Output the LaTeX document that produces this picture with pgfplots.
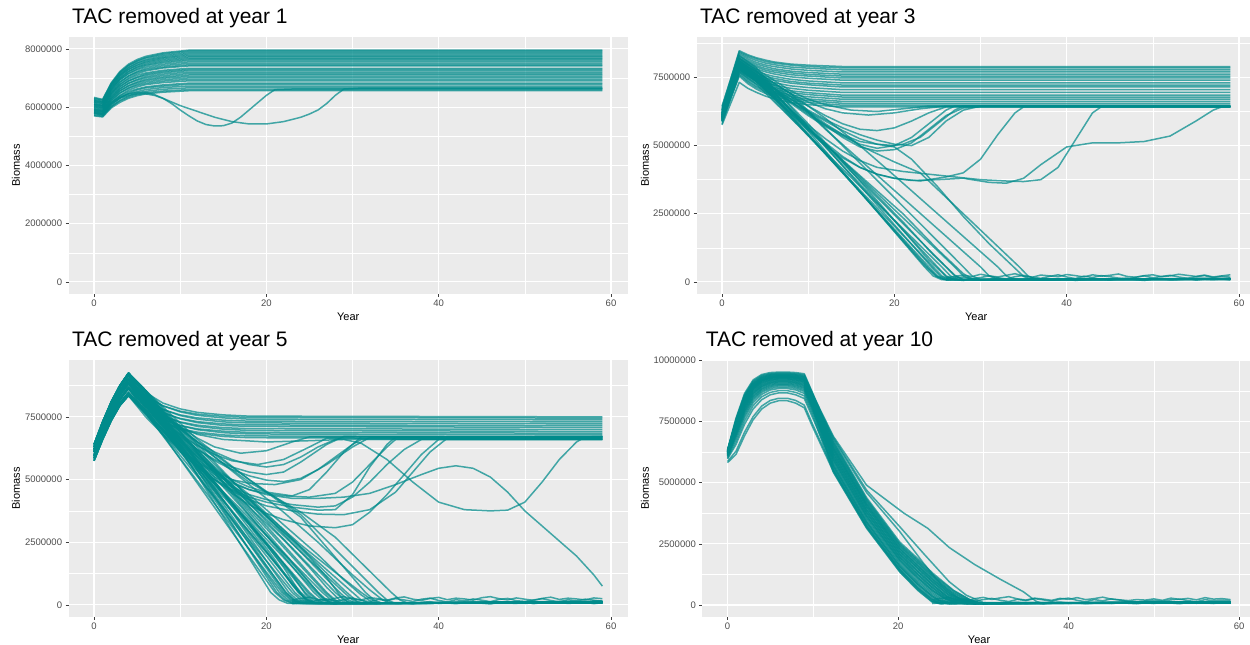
\documentclass[border=0pt]{standalone}
\usepackage{fontspec}
\setmainfont{Liberation Sans}
\usepackage{pgfplots}
\usepackage{pgfplotstable}
\pgfplotsset{compat=1.18}
\definecolor{tl}{RGB}{0,139,139}
\definecolor{bgc}{RGB}{235,235,235}
\definecolor{tkc}{RGB}{77,77,77}
\pgfplotsset{
 bl/.style={tl, line width=1.5pt, opacity=0.72, line join=round},
 gg/.style={
  scale only axis, height=256.5pt,
  xmin=-2.95, xmax=61.95,
  axis background/.style={fill=bgc},
  axis line style={draw=none},
  grid=both,
  major grid style={white, line width=1.1pt},
  minor grid style={white, line width=0.55pt},
  tick align=outside, tick pos=left,
  major tick length=3pt, minor tick length=0pt,
  tick style={color=black!75, line width=0.5pt},
  xtick={0,20,40,60}, xticklabels={0,20,40,60}, minor xtick={10,30,50},
  ticklabel style={font=\fontsize{9.5}{11}\selectfont, text=tkc},
  label style={font=\fontsize{11}{13}\selectfont},
  title style={font=\fontsize{21}{25}\selectfont, anchor=base west, at={(axis description cs:0,1)}, yshift=8pt},
  xlabel=Year, ylabel=Biomass,
  xlabel style={at={(axis description cs:0.5,-0.09)}, anchor=center},
 }
}
\newcommand{\ad}[1]{\edef\tmp{\noexpand\addplot[bl] coordinates {#1};}\tmp}
\newcommand{\pA}[9]{\addplot[bl] coordinates {(0,#1)(1,#2)(2,#3)(3,#4)(4,#5)(5,#6)(6,#7)(8,#8)(11,#9)(59,#9)};}
\newcommand{\pB}[9]{\addplot[bl] coordinates {(0,#1)(2,#2)(3,#3)(4,#4)(5,#5)(6,#6)(8,#7)(10,#8)(14,#9)(59,#9)};}
\newcommand{\RHi}{(0,6.30)(1,7.25)(2,8.05)(3,8.70)(4,9.15)}
\newcommand{\RMd}{(0,6.10)(1,7.00)(2,7.80)(3,8.40)(4,8.85)}
\newcommand{\RLo}{(0,5.85)(1,6.70)(2,7.45)(3,8.05)(4,8.45)}
\newcommand{\RA}{(0,6.20)(1,7.10)(2,7.90)(3,8.55)(4,9.00)}
\newcommand{\RB}{(0,5.95)(1,6.85)(2,7.60)(3,8.20)(4,8.65)}
\newcommand{\RC}{(0,6.40)(1,7.30)(2,8.10)(3,8.75)(4,9.25)}
\newcommand{\RD}{(0,5.75)(1,6.60)(2,7.35)(3,7.95)(4,8.35)}

\pgfplotstableread{
x n1 n2 n3
26 0.10 0.06 0.15
27 0.14 0.09 0.20
28 0.18 0.05 0.25
29 0.12 0.12 0.19
30 0.16 0.08 0.28
31 0.22 0.10 0.22
32 0.15 0.14 0.18
33 0.11 0.07 0.24
34 0.19 0.11 0.30
35 0.24 0.06 0.21
36 0.17 0.13 0.17
37 0.13 0.09 0.25
38 0.20 0.07 0.22
39 0.26 0.12 0.19
40 0.18 0.10 0.27
41 0.12 0.05 0.23
42 0.21 0.08 0.18
43 0.16 0.13 0.26
44 0.23 0.09 0.21
45 0.19 0.06 0.24
46 0.14 0.11 0.29
47 0.11 0.14 0.20
48 0.17 0.08 0.17
49 0.22 0.05 0.23
50 0.15 0.10 0.26
51 0.20 0.12 0.19
52 0.24 0.07 0.22
53 0.18 0.09 0.28
54 0.13 0.13 0.24
55 0.19 0.06 0.20
56 0.23 0.10 0.25
57 0.16 0.08 0.18
58 0.21 0.11 0.22
59 0.17 0.07 0.26
}\noiseB
\pgfplotstableread{
x n1 n2 n3
23 0.12 0.05 0.20
24 0.16 0.08 0.26
25 0.10 0.06 0.31
26 0.19 0.10 0.22
27 0.24 0.07 0.18
28 0.15 0.04 0.27
29 0.21 0.09 0.33
30 0.28 0.12 0.24
31 0.18 0.06 0.20
32 0.13 0.08 0.29
33 0.22 0.05 0.25
34 0.17 0.11 0.19
35 0.25 0.07 0.28
36 0.20 0.09 0.32
37 0.14 0.04 0.23
38 0.23 0.10 0.18
39 0.27 0.13 0.26
40 0.18 0.06 0.30
41 0.12 0.08 0.21
42 0.21 0.05 0.27
43 0.16 0.09 0.24
44 0.24 0.11 0.19
45 0.19 0.07 0.29
46 0.13 0.04 0.33
47 0.22 0.10 0.25
48 0.26 0.08 0.20
49 0.17 0.06 0.28
50 0.14 0.12 0.23
51 0.20 0.05 0.18
52 0.25 0.09 0.26
53 0.18 0.07 0.31
54 0.12 0.10 0.22
55 0.21 0.06 0.27
56 0.16 0.08 0.24
57 0.23 0.11 0.20
58 0.19 0.05 0.28
59 0.15 0.09 0.25
}\noiseC
\pgfplotstableread{
x n1 n2 n3
24 0.14 0.06 0.22
25 0.18 0.09 0.27
26 0.11 0.05 0.30
27 0.20 0.08 0.21
28 0.25 0.12 0.17
29 0.16 0.06 0.26
30 0.22 0.10 0.31
31 0.27 0.07 0.23
32 0.19 0.05 0.29
33 0.14 0.09 0.34
34 0.23 0.11 0.25
35 0.18 0.06 0.20
36 0.26 0.08 0.28
37 0.21 0.05 0.24
38 0.15 0.10 0.19
39 0.24 0.12 0.27
40 0.28 0.07 0.23
41 0.19 0.09 0.30
42 0.13 0.05 0.22
43 0.22 0.08 0.26
44 0.17 0.11 0.32
45 0.25 0.06 0.24
46 0.20 0.10 0.21
47 0.14 0.07 0.18
48 0.12 0.05 0.22
49 0.16 0.09 0.20
50 0.19 0.06 0.25
51 0.15 0.11 0.19
52 0.21 0.08 0.28
53 0.24 0.05 0.23
54 0.18 0.10 0.27
55 0.13 0.07 0.21
56 0.22 0.09 0.30
57 0.17 0.06 0.24
58 0.20 0.11 0.26
59 0.16 0.08 0.22
}\noiseD

\begin{document}
\begin{tikzpicture}
\useasboundingbox (0,0) rectangle (1250pt,645pt);
%================ Panel 1
\begin{axis}[gg, at={(68.6pt,351.4pt)}, anchor=south west, width=559.2pt,
  ymin=-0.4, ymax=8.4, ytick={0,2,4,6,8},
  yticklabels={0,2000000,4000000,6000000,8000000}, minor ytick={1,3,5,7},
  title={TAC removed at year 1},
  ylabel style={at={(axis description cs:-0.094,0.5)}, anchor=center}]
\pA{6.30}{6.25}{6.83}{7.22}{7.47}{7.63}{7.74}{7.86}{7.95}
\pA{6.22}{6.18}{6.78}{7.18}{7.43}{7.59}{7.70}{7.83}{7.92}
\pA{6.33}{6.26}{6.81}{7.18}{7.42}{7.57}{7.68}{7.79}{7.88}
\pA{6.18}{6.14}{6.72}{7.11}{7.36}{7.52}{7.63}{7.75}{7.84}
\pA{6.28}{6.22}{6.76}{7.12}{7.35}{7.50}{7.60}{7.71}{7.80}
\pA{6.15}{6.10}{6.66}{7.05}{7.29}{7.45}{7.56}{7.68}{7.76}
\pA{6.25}{6.19}{6.72}{7.07}{7.29}{7.43}{7.53}{7.64}{7.72}
\pA{6.10}{6.06}{6.61}{6.98}{7.22}{7.38}{7.49}{7.60}{7.68}
\pA{6.22}{6.16}{6.67}{7.00}{7.22}{7.36}{7.45}{7.56}{7.64}
\pA{6.08}{6.04}{6.57}{6.93}{7.16}{7.31}{7.42}{7.52}{7.60}
\pA{6.18}{6.12}{6.61}{6.94}{7.14}{7.28}{7.37}{7.47}{7.55}
\pA{6.02}{5.99}{6.50}{6.85}{7.07}{7.22}{7.32}{7.42}{7.50}
\pA{6.12}{6.06}{6.54}{6.86}{7.06}{7.19}{7.28}{7.37}{7.45}
\pA{5.98}{5.95}{6.44}{6.78}{7.00}{7.14}{7.24}{7.34}{7.41}
\pA{6.08}{6.02}{6.48}{6.77}{6.96}{7.09}{7.17}{7.26}{7.33}
\pA{5.92}{5.90}{6.37}{6.69}{6.90}{7.03}{7.13}{7.22}{7.29}
\pA{6.05}{5.99}{6.43}{6.71}{6.89}{7.01}{7.09}{7.18}{7.25}
\pA{5.88}{5.86}{6.31}{6.62}{6.82}{6.95}{7.04}{7.13}{7.20}
\pA{6.02}{5.95}{6.36}{6.63}{6.81}{6.92}{7.00}{7.08}{7.15}
\pA{5.85}{5.82}{6.26}{6.55}{6.74}{6.86}{6.95}{7.03}{7.10}
\pA{5.97}{5.90}{6.30}{6.56}{6.72}{6.83}{6.91}{6.99}{7.05}
\pA{5.82}{5.78}{6.20}{6.48}{6.66}{6.78}{6.86}{6.94}{7.00}
\pA{5.93}{5.86}{6.24}{6.48}{6.64}{6.74}{6.81}{6.89}{6.95}
\pA{5.78}{5.75}{6.14}{6.40}{6.58}{6.69}{6.77}{6.84}{6.90}
\pA{5.88}{5.80}{6.16}{6.38}{6.53}{6.62}{6.69}{6.76}{6.82}
\pA{5.75}{5.71}{6.06}{6.31}{6.48}{6.59}{6.66}{6.72}{6.78}
\pA{5.84}{5.76}{6.10}{6.31}{6.45}{6.53}{6.60}{6.67}{6.72}
\pA{5.72}{5.68}{6.01}{6.23}{6.38}{6.48}{6.54}{6.61}{6.66}
\pA{5.80}{5.72}{6.02}{6.21}{6.34}{6.43}{6.49}{6.55}{6.60}
\pA{5.70}{5.66}{5.97}{6.16}{6.30}{6.39}{6.45}{6.51}{6.56}
\addplot[bl] coordinates {(0,5.9)(1,5.85)(2,6.15)(3,6.35)(4,6.45)(5,6.5)(6,6.5)(7,6.43)(8,6.3)(9,6.12)(10,5.9)(11,5.7)(12,5.52)(13,5.4)(14,5.35)(15,5.36)(16,5.45)(17,5.65)(18,5.9)(19,6.15)(20,6.4)(21,6.6)(23,6.62)(59,6.62)};
\addplot[bl] coordinates {(0,5.8)(1,5.75)(2,6.1)(3,6.3)(4,6.4)(5,6.45)(6,6.45)(7,6.4)(8,6.3)(10,6.05)(12,5.85)(14,5.65)(16,5.5)(18,5.42)(20,5.42)(22,5.5)(24,5.65)(25,5.76)(26,5.9)(27,6.12)(28,6.4)(29,6.62)(31,6.65)(59,6.65)};
\end{axis}
%================ Panel 2
\begin{axis}[gg, at={(696.6pt,351.4pt)}, anchor=south west, width=559.2pt,
  ymin=-0.43, ymax=8.98, ytick={0,2.5,5,7.5},
  yticklabels={0,2500000,5000000,7500000}, minor ytick={1.25,3.75,6.25,8.75},
  title={TAC removed at year 3},
  ylabel style={at={(axis description cs:-0.0925,0.5)}, anchor=center}]
\pB{6.40}{8.48}{8.33}{8.22}{8.14}{8.07}{7.99}{7.95}{7.90}
\pB{6.30}{8.44}{8.29}{8.18}{8.09}{8.03}{7.95}{7.90}{7.85}
\pB{6.45}{8.40}{8.24}{8.12}{8.03}{7.97}{7.88}{7.84}{7.78}
\pB{6.25}{8.35}{8.18}{8.05}{7.96}{7.90}{7.81}{7.76}{7.70}
\pB{6.35}{8.29}{8.12}{7.99}{7.90}{7.82}{7.73}{7.68}{7.62}
\pB{6.18}{8.25}{8.07}{7.93}{7.83}{7.76}{7.67}{7.61}{7.55}
\pB{6.28}{8.20}{8.02}{7.88}{7.77}{7.70}{7.60}{7.55}{7.48}
\pB{6.12}{8.15}{7.96}{7.81}{7.71}{7.63}{7.52}{7.47}{7.40}
\pB{6.22}{8.09}{7.88}{7.73}{7.62}{7.54}{7.43}{7.37}{7.30}
\pB{6.05}{8.03}{7.82}{7.67}{7.55}{7.47}{7.35}{7.29}{7.22}
\pB{6.15}{7.99}{7.77}{7.61}{7.49}{7.40}{7.29}{7.23}{7.15}
\pB{5.98}{7.92}{7.70}{7.53}{7.41}{7.31}{7.19}{7.13}{7.05}
\pB{6.10}{7.86}{7.62}{7.45}{7.32}{7.22}{7.10}{7.03}{6.95}
\pB{5.92}{7.79}{7.55}{7.37}{7.23}{7.13}{7.01}{6.94}{6.85}
\pB{6.02}{7.75}{7.50}{7.31}{7.17}{7.07}{6.94}{6.87}{6.78}
\pB{5.86}{7.70}{7.44}{7.25}{7.11}{7.00}{6.86}{6.79}{6.70}
\pB{5.96}{7.64}{7.38}{7.18}{7.04}{6.93}{6.79}{6.71}{6.62}
\pB{5.80}{7.60}{7.33}{7.13}{6.98}{6.87}{6.72}{6.65}{6.55}
\pB{5.90}{7.55}{7.27}{7.07}{6.92}{6.80}{6.66}{6.58}{6.48}
\pB{5.76}{7.32}{7.10}{6.95}{6.82}{6.72}{6.58}{6.50}{6.42}
% dips and recoveries
\addplot[bl] coordinates {(0,6.0)(2,8.0)(4,7.6)(6,7.1)(8,6.6)(10,6.2)(12,5.75)(14,5.3)(16,4.95)(18,4.8)(20,4.85)(22,5.1)(24,5.6)(26,6.1)(28,6.38)(30,6.42)(59,6.42)};
\addplot[bl] coordinates {(0,5.95)(2,7.9)(4,7.5)(6,7.0)(8,6.55)(10,6.1)(12,5.7)(14,5.35)(16,5.05)(18,4.9)(20,5.0)(22,5.3)(24,5.8)(26,6.3)(27,6.45)(59,6.45)};
\addplot[bl] coordinates {(0,6.1)(2,8.1)(4,7.7)(6,7.3)(8,6.9)(10,6.6)(12,6.35)(14,6.2)(17,6.12)(20,6.2)(23,6.35)(26,6.45)(59,6.45)};
\addplot[bl] coordinates {(0,6.05)(2,8.0)(4,7.6)(6,7.2)(8,6.8)(10,6.45)(12,6.1)(14,5.8)(16,5.6)(18,5.55)(20,5.65)(22,5.9)(24,6.2)(26,6.42)(59,6.42)};
\addplot[bl] coordinates {(0,5.9)(2,7.85)(4,7.45)(6,7.0)(8,6.6)(10,6.25)(12,5.9)(14,5.55)(16,5.25)(18,5.05)(20,5.0)(21,5.05)(23,5.3)(25,5.8)(27,6.3)(28,6.45)(59,6.45)};
\addplot[bl] coordinates {(0,6.15)(2,8.2)(4,7.8)(6,7.4)(8,7.0)(10,6.7)(12,6.5)(15,6.3)(18,6.25)(21,6.35)(24,6.45)(59,6.45)};
\addplot[bl] coordinates {(0,6.0)(2,7.95)(4,7.55)(6,7.1)(8,6.7)(10,6.3)(12,5.95)(14,5.65)(16,5.4)(18,5.2)(20,5.05)(22,5.0)(24,5.3)(26,5.9)(28,6.3)(30,6.45)(59,6.45)};
% deep dips
\addplot[bl] coordinates {(0,6.0)(2,7.9)(4,7.4)(6,6.8)(8,6.2)(10,5.6)(12,5.1)(14,4.6)(16,4.2)(18,3.95)(20,3.8)(23,3.7)(26,3.85)(28,4.0)(30,4.5)(32,5.4)(34,6.2)(35,6.42)(59,6.42)};
\addplot[bl] coordinates {(0,5.95)(2,7.85)(4,7.35)(6,6.75)(8,6.15)(10,5.55)(12,5.0)(14,4.55)(16,4.2)(18,3.95)(20,3.8)(22,3.72)(25,3.75)(28,3.8)(31,3.65)(33,3.62)(35,3.8)(37,4.3)(40,4.95)(43,5.1)(46,5.1)(49,5.15)(52,5.35)(55,5.9)(57,6.3)(58,6.42)(59,6.42)};
\addplot[bl] coordinates {(0,6.05)(2,7.95)(4,7.5)(6,6.9)(8,6.3)(10,5.75)(12,5.25)(14,4.8)(16,4.45)(18,4.2)(21,4.05)(24,3.95)(27,3.85)(30,3.75)(33,3.7)(35,3.68)(37,3.75)(39,4.2)(41,5.2)(43,6.2)(44,6.42)(59,6.42)};
\addplot[bl] coordinates {(0,6.1)(2,8.05)(4,7.6)(6,7.1)(8,6.6)(10,6.15)(12,5.75)(14,5.4)(16,5.15)(18,5.05)(20,4.95)(22,4.5)(25,3.5)(28,2.4)(31,1.4)(34,0.5)(35,0.2)(36,0.08)(59,0.1)};
% collapses
\addplot[bl] coordinates {(0,6.2)(2,8.2)(4,7.75)(23.5,0.55)(24.5,0.22)(25.5,0.08)(59,0.10)};
\addplot[bl] coordinates {(0,6.1)(2,8.0)(4,7.55)(23.8,0.55)(24.8,0.22)(25.8,0.08)(59,0.12)};
\addplot[bl] coordinates {(0,6.0)(2,7.9)(4,7.45)(24,0.55)(25,0.22)(26,0.08)(59,0.09)};
\addplot[bl] coordinates {(0,6.3)(2,8.3)(4,7.85)(24.3,0.55)(25.3,0.22)(26.3,0.08)(59,0.11)};
\addplot[bl] coordinates {(0,5.95)(2,7.8)(4,7.35)(24.5,0.55)(25.5,0.22)(26.5,0.08)(59,0.10)};
\addplot[bl] coordinates {(0,6.15)(2,8.1)(4,7.65)(25,0.55)(26,0.22)(27,0.08)(59,0.13)};
\addplot[bl] coordinates {(0,5.9)(2,7.7)(4,7.25)(25.5,0.55)(26.5,0.22)(27.5,0.08)(59,0.10)};
\addplot[bl] coordinates {(0,6.1)(2,8.0)(4,7.55)(26,0.55)(27,0.22)(28,0.08)(59,0.08)};
\addplot[bl] coordinates {(0,6.05)(2,7.9)(4,7.45)(27,0.55)(28,0.22)(29,0.08)(59,0.12)};
\addplot[bl] coordinates {(0,6.2)(2,8.1)(4,7.7)(8,6.9)(28,0.55)(29,0.22)(30,0.08)(59,0.10)};
\addplot[bl] coordinates {(0,6.0)(2,7.8)(4,7.4)(8,6.8)(12,5.6)(30,0.55)(31,0.22)(32,0.08)(59,0.11)};
\addplot[bl] coordinates {(0,6.1)(2,8.0)(4,7.6)(8,6.9)(12,6.0)(16,5.0)(20,3.9)(32,0.55)(33,0.22)(34,0.08)(59,0.10)};
\addplot[bl] coordinates {(0,6.05)(2,7.95)(4,7.5)(8,6.7)(12,5.8)(16,5.0)(20,4.4)(23,4.0)(34.5,0.55)(35.5,0.22)(36.5,0.08)(59,0.10)};
\addplot[bl] coordinates {(0,6.0)(2,7.85)(4,7.45)(10,5.4)(16,3.3)(21,1.5)(23.5,0.6)(25,0.18)(26,0.08)(59,0.11)};
\addplot[bl] coordinates {(0,6.2)(2,8.15)(4,7.75)(10,5.8)(16,3.7)(21,1.9)(24,0.8)(26,0.2)(27,0.08)(59,0.09)};
\addplot[bl] coordinates {(0,6.1)(2,8.05)(4,7.6)(10,5.7)(16,3.8)(21,2.2)(24.5,1.0)(27,0.25)(28,0.08)(59,0.12)};
\addplot[bl] coordinates {(0,5.92)(2,7.75)(4,7.35)(10,5.6)(16,3.9)(21,2.5)(25,1.2)(28,0.3)(29.2,0.08)(59,0.10)};
\addplot[bl] table[x=x,y=n1]{\noiseB};
\addplot[bl] table[x=x,y=n2]{\noiseB};
\addplot[bl] table[x=x,y=n3]{\noiseB};
\end{axis}
%================ Panel 3
\begin{axis}[gg, at={(68.6pt,28.4pt)}, anchor=south west, width=559.2pt,
  ymin=-0.465, ymax=9.765, ytick={0,2.5,5,7.5},
  yticklabels={0,2500000,5000000,7500000}, minor ytick={1.25,3.75,6.25,8.75},
  title={TAC removed at year 5},
  ylabel style={at={(axis description cs:-0.094,0.5)}, anchor=center}]
\addplot[bl] coordinates {(0,6.30)(1,7.26)(2,8.10)(3,8.74)(4,9.20)(5,8.79)(6,8.47)(8,8.05)(10,7.82)(12,7.68)(15,7.58)(18,7.53)(59,7.50)};
\addplot[bl] coordinates {(0,6.10)(1,7.04)(2,7.87)(3,8.49)(4,8.95)(5,8.58)(6,8.31)(8,7.94)(10,7.73)(12,7.61)(15,7.52)(18,7.48)(59,7.45)};
\addplot[bl] coordinates {(0,6.25)(1,7.19)(2,8.02)(3,8.64)(4,9.10)(5,8.68)(6,8.36)(8,7.94)(10,7.70)(12,7.56)(15,7.46)(18,7.41)(59,7.38)};
\addplot[bl] coordinates {(0,6.00)(1,6.92)(2,7.74)(3,8.35)(4,8.80)(5,8.43)(6,8.16)(8,7.79)(10,7.58)(12,7.46)(15,7.37)(18,7.33)(59,7.30)};
\addplot[bl] coordinates {(0,6.20)(1,7.12)(2,7.94)(3,8.55)(4,9.00)(5,8.57)(6,8.24)(8,7.80)(10,7.55)(12,7.41)(15,7.30)(18,7.26)(59,7.22)};
\addplot[bl] coordinates {(0,5.95)(1,6.86)(2,7.66)(3,8.26)(4,8.70)(5,8.32)(6,8.04)(8,7.66)(10,7.44)(12,7.31)(15,7.22)(18,7.18)(59,7.15)};
\addplot[bl] coordinates {(0,6.15)(1,7.06)(2,7.86)(3,8.46)(4,8.90)(5,8.46)(6,8.12)(8,7.67)(10,7.42)(12,7.27)(15,7.16)(18,7.12)(59,7.08)};
\addplot[bl] coordinates {(0,5.90)(1,6.79)(2,7.57)(3,8.17)(4,8.60)(5,8.21)(6,7.91)(8,7.52)(10,7.30)(12,7.17)(15,7.07)(18,7.03)(59,7.00)};
\addplot[bl] coordinates {(0,6.10)(1,7.01)(2,7.81)(3,8.41)(4,8.85)(5,8.38)(6,8.02)(8,7.55)(10,7.28)(12,7.12)(15,7.01)(18,6.96)(59,6.92)};
\addplot[bl] coordinates {(0,5.85)(1,6.72)(2,7.49)(3,8.08)(4,8.50)(5,8.10)(6,7.79)(8,7.39)(10,7.16)(12,7.02)(15,6.93)(18,6.88)(59,6.85)};
\addplot[bl] coordinates {(0,6.05)(1,6.94)(2,7.72)(3,8.32)(4,8.75)(5,8.27)(6,7.90)(8,7.42)(10,7.15)(12,6.99)(15,6.87)(18,6.82)(59,6.78)};
\addplot[bl] coordinates {(0,5.80)(1,6.67)(2,7.44)(3,8.03)(4,8.45)(5,8.02)(6,7.70)(8,7.27)(10,7.03)(12,6.89)(15,6.78)(18,6.74)(59,6.70)};
\addplot[bl] coordinates {(0,6.00)(1,6.87)(2,7.64)(3,8.23)(4,8.65)(5,8.16)(6,7.78)(8,7.29)(10,7.01)(12,6.84)(15,6.72)(18,6.67)(59,6.63)};
% dips
\ad{\RA(6,8.2)(8,7.6)(10,7.1)(12,6.65)(14,6.3)(17,6.05)(20,6.15)(23,6.5)(25,6.7)(59,6.7)}
\ad{\RB(6,7.9)(8,7.3)(10,6.8)(12,6.35)(14,6.0)(16,5.75)(19,5.6)(22,5.8)(25,6.3)(27,6.65)(59,6.65)}
\ad{\RMd(6,8.0)(8,7.3)(10,6.7)(12,6.2)(14,5.8)(16,5.5)(18,5.3)(20,5.2)(22,5.3)(24,5.7)(27,6.4)(29,6.72)(59,6.72)}
\ad{\RHi(6,8.2)(8,7.4)(10,6.75)(12,6.2)(14,5.75)(16,5.4)(18,5.15)(20,4.98)(22,4.92)(24,5.05)(26,5.4)(28,5.9)(30,6.4)(31,6.6)(59,6.6)}
\ad{\RLo(6,7.7)(8,7.0)(10,6.3)(12,5.7)(14,5.2)(16,4.85)(18,4.6)(20,4.45)(22,4.35)(25,4.3)(28,4.45)(30,4.9)(32,5.6)(34,6.3)(35,6.6)(59,6.6)}
\ad{\RA(6,8.0)(8,7.2)(10,6.5)(12,5.9)(14,5.4)(16,5.0)(18,4.7)(20,4.5)(23,4.35)(25,4.6)(27,5.3)(29,6.1)(31,6.7)(59,6.7)}
\ad{\RB(6,7.7)(8,6.9)(10,6.2)(12,5.6)(14,5.1)(16,4.7)(18,4.4)(20,4.2)(23,4.0)(26,3.9)(28,3.95)(30,4.3)(32,4.9)(34,5.6)(36,6.2)(38,6.6)(59,6.6)}
\ad{\RMd(6,7.8)(8,6.95)(10,6.2)(12,5.55)(14,5.0)(16,4.55)(18,4.2)(20,3.95)(23,3.75)(26,3.62)(29,3.6)(32,3.8)(35,4.5)(37,5.3)(39,6.1)(41,6.65)(59,6.65)}
\ad{\RHi(6,8.1)(8,7.15)(10,6.3)(12,5.6)(14,5.0)(16,4.45)(18,4.0)(20,3.65)(22,3.4)(25,3.15)(28,3.08)(30,3.2)(32,3.7)(34,4.4)(36,5.2)(38,6.0)(40,6.6)(59,6.6)}
\ad{\RLo(6,7.6)(8,6.8)(10,6.1)(12,5.5)(14,5.0)(16,4.6)(18,4.3)(20,4.1)(23,3.9)(26,3.78)(28,3.8)(30,4.4)(32,5.5)(34,6.4)(35,6.7)(59,6.7)}
\ad{\RC(6,8.3)(8,7.6)(10,7.0)(12,6.5)(14,6.1)(16,5.8)(18,5.6)(20,5.5)(22,5.6)(24,5.9)(26,6.3)(28,6.6)(59,6.6)}
\ad{\RD(6,7.5)(8,6.8)(10,6.2)(12,5.7)(14,5.3)(16,5.0)(18,4.85)(21,4.8)(24,5.0)(27,5.6)(30,6.3)(32,6.68)(59,6.68)}
\ad{\RA(6,8.2)(8,7.55)(10,7.1)(12,6.8)(15,6.6)(20,6.5)(25,6.55)(29,6.6)(31,6.45)(34,5.8)(37,4.9)(40,4.1)(43,3.8)(46,3.75)(48,3.78)(50,4.1)(52,4.9)(54,5.8)(56,6.5)(57,6.7)(59,6.72)}
\ad{\RMd(6,7.9)(8,7.1)(10,6.4)(12,5.8)(14,5.3)(16,4.9)(18,4.6)(20,4.4)(23,4.25)(26,4.25)(29,4.3)(32,4.45)(35,4.8)(38,5.2)(40,5.45)(42,5.55)(44,5.45)(46,5.1)(48,4.5)(50,3.75)(52,3.15)(54,2.55)(56,1.95)(58,1.2)(59,0.75)}
% collapses
\ad{\RHi(6,8.45)(20.5,0.5)(21.5,0.2)(22.5,0.06)(59,0.12)}
\ad{\RLo(6,7.75)(21,0.5)(22,0.2)(23,0.06)(59,0.08)}
\ad{\RMd(6,8.15)(21.5,0.5)(22.5,0.2)(23.5,0.06)(59,0.15)}
\ad{\RA(6,8.30)(22,0.5)(23,0.2)(24,0.06)(59,0.10)}
\ad{\RB(6,7.95)(22.3,0.5)(23.3,0.2)(24.3,0.06)(59,0.09)}
\ad{\RC(6,8.55)(22.6,0.5)(23.6,0.2)(24.6,0.06)(59,0.13)}
\ad{\RD(6,7.65)(23,0.5)(24,0.2)(25,0.06)(59,0.07)}
\ad{\RMd(6,8.15)(23.3,0.5)(24.3,0.2)(25.3,0.06)(59,0.11)}
\ad{\RHi(6,8.45)(23.7,0.5)(24.7,0.2)(25.7,0.06)(59,0.10)}
\ad{\RLo(6,7.75)(24,0.5)(25,0.2)(26,0.06)(59,0.14)}
\ad{\RA(6,8.30)(24.5,0.5)(25.5,0.2)(26.5,0.06)(59,0.08)}
\ad{\RB(6,7.95)(25,0.5)(26,0.2)(27,0.06)(59,0.12)}
\ad{\RC(6,8.55)(25.5,0.5)(26.5,0.2)(27.5,0.06)(59,0.10)}
\ad{\RMd(6,8.15)(26,0.5)(27,0.2)(28,0.06)(59,0.09)}
\ad{\RD(6,7.65)(26.5,0.5)(27.5,0.2)(28.5,0.06)(59,0.13)}
\ad{\RHi(6,8.45)(27,0.5)(28,0.2)(29,0.06)(59,0.11)}
\ad{\RA(6,8.30)(28,0.5)(29,0.2)(30,0.06)(59,0.10)}
\ad{\RB(6,7.95)(29,0.5)(30,0.2)(31,0.06)(59,0.12)}
\ad{\RLo(6,7.75)(30,0.5)(31,0.2)(32,0.06)(59,0.09)}
\ad{\RMd(6,8.15)(12,6.5)(18,5.0)(24,3.5)(31.5,0.5)(32.5,0.2)(33.5,0.06)(59,0.11)}
\ad{\RC(6,8.55)(12,6.6)(18,5.0)(24,3.6)(33,0.5)(34,0.2)(35,0.06)(59,0.10)}
\ad{\RA(6,8.30)(12,6.4)(18,4.9)(24,3.7)(28,2.7)(34.5,0.5)(35.5,0.2)(36.5,0.06)(59,0.12)}
\ad{\RC(6,8.55)(21.2,0.5)(22.2,0.2)(23.2,0.06)(59,0.10)}
\ad{\RD(6,7.65)(21.8,0.5)(22.8,0.2)(23.8,0.06)(59,0.12)}
\ad{\RHi(6,8.45)(22.2,0.5)(23.2,0.2)(24.2,0.06)(59,0.09)}
\ad{\RB(6,7.95)(23.8,0.5)(24.8,0.2)(25.8,0.06)(59,0.14)}
\ad{\RMd(6,8.15)(24.8,0.5)(25.8,0.2)(26.8,0.06)(59,0.10)}
\ad{\RLo(6,7.75)(25.8,0.5)(26.8,0.2)(27.8,0.06)(59,0.08)}
\ad{\RA(6,8.30)(26.8,0.5)(27.8,0.2)(28.8,0.06)(59,0.11)}
\ad{\RC(6,8.55)(28.5,0.5)(29.5,0.2)(30.5,0.06)(59,0.10)}
\ad{\RB(6,7.95)(10,6.5)(14,4.9)(18,3.2)(21,1.8)(23,0.8)(24.5,0.25)(25.5,0.06)(59,0.10)}
\ad{\RHi(6,8.4)(10,6.9)(14,5.3)(18,3.7)(22,2.1)(25,0.9)(26.5,0.3)(27.5,0.06)(59,0.12)}
\ad{\RMd(6,8.1)(10,6.6)(14,5.2)(18,3.9)(22,2.6)(25,1.5)(27,0.7)(28.5,0.2)(29.5,0.06)(59,0.09)}
\ad{\RC(6,8.5)(10,7.0)(14,5.6)(18,4.3)(22,3.0)(26,1.6)(29,0.6)(30.5,0.15)(31.5,0.06)(59,0.11)}
\ad{\RLo(6,7.7)(10,6.3)(14,4.8)(18,3.3)(21,2.1)(23,1.2)(24.5,0.45)(25.5,0.1)(26.2,0.06)(59,0.10)}
\ad{\RA(6,8.25)(10,6.8)(14,5.5)(18,4.4)(22,3.2)(26,2.0)(29,1.0)(31,0.4)(32.5,0.06)(59,0.12)}
\ad{\RD(6,7.6)(10,6.2)(14,4.7)(18,3.2)(20,2.4)(22,1.5)(23.5,0.7)(24.5,0.2)(25.3,0.06)(59,0.08)}
\ad{\RHi(6,8.4)(10,7.1)(14,5.9)(18,4.8)(22,3.7)(26,2.5)(30,1.2)(32,0.6)(33.5,0.2)(34.5,0.06)(59,0.10)}
\ad{\RB(6,7.9)(10,6.6)(14,5.4)(18,4.2)(22,2.9)(25,1.9)(27,1.1)(28.5,0.4)(29.5,0.1)(30.2,0.06)(59,0.13)}
\ad{\RMd(6,8.1)(10,6.7)(14,5.4)(17,4.5)(20,3.6)(24,2.4)(28,1.3)(31,0.5)(32.5,0.15)(33.3,0.06)(59,0.10)}
\addplot[bl] table[x=x,y=n1]{\noiseC};
\addplot[bl] table[x=x,y=n2]{\noiseC};
\addplot[bl] table[x=x,y=n3]{\noiseC};
\end{axis}
%================ Panel 4
\begin{axis}[gg, at={(702.4pt,28.4pt)}, anchor=south west, width=553.3pt,
  ymin=-0.475, ymax=10.01, ytick={0,2.5,5,7.5,10},
  yticklabels={0,2500000,5000000,7500000,10000000}, minor ytick={1.25,3.75,6.25,8.75},
  title={TAC removed at year 10},
  ylabel style={at={(axis description cs:-0.104,0.5)}, anchor=center}]
\addplot[bl] coordinates {(0,6.35)(1,7.65)(2,8.65)(3,9.20)(4,9.42)(5,9.50)(6,9.52)(7,9.52)(8,9.50)(9,9.45)(10,8.65)(12.4,6.67)(16.3,4.33)(20.2,2.51)(22.3,1.84)(24,1.26)(26.5,0.58)(28.5,0.2)(30,0.06)(59,0.10)};
\addplot[bl] coordinates {(0,6.33)(1,7.60)(2,8.60)(3,9.15)(4,9.38)(5,9.46)(6,9.48)(7,9.48)(8,9.46)(9,9.41)(10,8.61)(12.4,6.47)(16.3,4.14)(20.2,2.33)(22.3,1.64)(24,1.08)(26.1,0.47)(27.9,0.15)(29.2,0.06)(59,0.12)};
\addplot[bl] coordinates {(0,6.32)(1,7.57)(2,8.56)(3,9.12)(4,9.35)(5,9.44)(6,9.46)(7,9.46)(8,9.44)(9,9.38)(10,8.58)(12.4,6.73)(16.3,4.39)(20.2,2.57)(22.3,1.90)(24,1.32)(26.5,0.6)(28.5,0.2)(30,0.06)(59,0.09)};
\addplot[bl] coordinates {(0,6.31)(1,7.54)(2,8.52)(3,9.08)(4,9.32)(5,9.41)(6,9.43)(7,9.43)(8,9.41)(9,9.35)(10,8.55)(12.4,6.34)(16.3,4.02)(20.2,2.20)(22.3,1.51)(24,0.96)(25.9,0.42)(27.6,0.14)(28.8,0.06)(59,0.11)};
\addplot[bl] coordinates {(0,6.31)(1,7.53)(2,8.51)(3,9.06)(4,9.30)(5,9.40)(6,9.42)(7,9.42)(8,9.40)(9,9.33)(10,8.53)(12.4,6.57)(16.3,4.24)(20.2,2.42)(22.3,1.74)(24,1.18)(26.3,0.53)(28.2,0.18)(29.6,0.06)(59,0.10)};
\addplot[bl] coordinates {(0,6.30)(1,7.50)(2,8.47)(3,9.03)(4,9.27)(5,9.37)(6,9.40)(7,9.40)(8,9.37)(9,9.31)(10,8.51)(12.4,6.21)(16.3,3.89)(20.2,2.08)(22.3,1.38)(24,0.84)(25.7,0.36)(27.3,0.12)(28.4,0.06)(59,0.13)};
\addplot[bl] coordinates {(0,6.28)(1,7.46)(2,8.43)(3,9.00)(4,9.24)(5,9.34)(6,9.37)(7,9.37)(8,9.34)(9,9.28)(10,8.48)(12.4,6.63)(16.3,4.29)(20.2,2.47)(22.3,1.80)(24,1.22)(26.4,0.55)(28.3,0.19)(29.8,0.06)(59,0.08)};
\addplot[bl] coordinates {(0,6.27)(1,7.43)(2,8.40)(3,8.96)(4,9.21)(5,9.32)(6,9.35)(7,9.35)(8,9.32)(9,9.25)(10,8.45)(12.4,6.41)(16.3,4.08)(20.2,2.27)(22.3,1.58)(24,1.02)(26,0.45)(27.8,0.15)(29,0.06)(59,0.12)};
\addplot[bl] coordinates {(0,6.27)(1,7.42)(2,8.38)(3,8.95)(4,9.20)(5,9.31)(6,9.34)(7,9.34)(8,9.31)(9,9.23)(10,8.43)(12.4,6.08)(16.3,3.77)(20.2,1.96)(22.3,1.25)(24,0.72)(25.6,0.3)(27,0.1)(28,0.06)(59,0.10)};
\addplot[bl] coordinates {(0,6.26)(1,7.39)(2,8.34)(3,8.91)(4,9.17)(5,9.28)(6,9.31)(7,9.31)(8,9.28)(9,9.20)(10,8.40)(12.4,6.54)(16.3,4.20)(20.2,2.39)(22.3,1.71)(24,1.14)(26.2,0.5)(28.1,0.17)(29.4,0.06)(59,0.11)};
\addplot[bl] coordinates {(0,6.25)(1,7.37)(2,8.33)(3,8.89)(4,9.16)(5,9.27)(6,9.30)(7,9.30)(8,9.27)(9,9.19)(10,8.39)(12.4,6.28)(16.3,3.95)(20.2,2.14)(22.3,1.45)(24,0.90)(25.8,0.39)(27.4,0.13)(28.6,0.06)(59,0.09)};
\addplot[bl] coordinates {(0,6.24)(1,7.34)(2,8.29)(3,8.86)(4,9.13)(5,9.24)(6,9.28)(7,9.28)(8,9.24)(9,9.16)(10,8.36)(12.4,5.95)(16.3,3.64)(20.2,1.84)(22.3,1.12)(24,0.60)(25.5,0.25)(26.8,0.08)(27.6,0.06)(59,0.13)};
\addplot[bl] coordinates {(0,6.23)(1,7.31)(2,8.25)(3,8.83)(4,9.10)(5,9.21)(6,9.25)(7,9.25)(8,9.21)(9,9.13)(10,8.33)(12.4,6.44)(16.3,4.12)(20.2,2.30)(22.3,1.61)(24,1.06)(26.1,0.46)(27.9,0.15)(29.1,0.06)(59,0.10)};
\addplot[bl] coordinates {(0,6.22)(1,7.29)(2,8.24)(3,8.81)(4,9.08)(5,9.20)(6,9.24)(7,9.24)(8,9.20)(9,9.12)(10,8.32)(12.4,6.15)(16.3,3.83)(20.2,2.02)(22.3,1.32)(24,0.78)(25.7,0.33)(27.1,0.11)(28.1,0.06)(59,0.12)};
\addplot[bl] coordinates {(0,6.21)(1,7.26)(2,8.20)(3,8.78)(4,9.05)(5,9.18)(6,9.22)(7,9.22)(8,9.18)(9,9.09)(10,8.29)(12.4,5.82)(16.3,3.52)(20.2,1.72)(22.3,0.99)(24,0.48)(25.3,0.18)(26.4,0.06)(59,0.09)};
\addplot[bl] coordinates {(0,6.20)(1,7.23)(2,8.16)(3,8.74)(4,9.02)(5,9.15)(6,9.19)(7,9.19)(8,9.15)(9,9.06)(10,8.26)(12.4,6.34)(16.3,4.02)(20.2,2.20)(22.3,1.51)(24,0.96)(25.9,0.42)(27.6,0.14)(28.8,0.06)(59,0.11)};
\addplot[bl] coordinates {(0,6.19)(1,7.20)(2,8.13)(3,8.71)(4,8.99)(5,9.12)(6,9.17)(7,9.17)(8,9.12)(9,9.03)(10,8.23)(12.4,6.02)(16.3,3.70)(20.2,1.90)(22.3,1.19)(24,0.66)(25.5,0.27)(26.9,0.09)(27.8,0.06)(59,0.10)};
\addplot[bl] coordinates {(0,6.18)(1,7.17)(2,8.09)(3,8.67)(4,8.96)(5,9.10)(6,9.14)(7,9.14)(8,9.10)(9,9.00)(10,8.20)(12.4,5.69)(16.3,3.39)(20.2,1.59)(22.3,0.86)(24,0.36)(25.1,0.13)(26,0.06)(59,0.12)};
\addplot[bl] coordinates {(0,6.17)(1,7.14)(2,8.06)(3,8.64)(4,8.93)(5,9.07)(6,9.12)(7,9.12)(8,9.07)(9,8.97)(10,8.17)(12.4,6.21)(16.3,3.89)(20.2,2.08)(22.3,1.38)(24,0.84)(25.7,0.36)(27.3,0.12)(28.4,0.06)(59,0.08)};
\addplot[bl] coordinates {(0,6.16)(1,7.11)(2,8.02)(3,8.61)(4,8.91)(5,9.05)(6,9.09)(7,9.09)(8,9.05)(9,8.94)(10,8.14)(12.4,5.89)(16.3,3.58)(20.2,1.78)(22.3,1.06)(24,0.54)(25.4,0.2)(26.6,0.07)(59,0.11)};
\addplot[bl] coordinates {(0,6.14)(1,7.06)(2,7.97)(3,8.55)(4,8.86)(5,9.01)(6,9.06)(7,9.06)(8,9.01)(9,8.90)(10,8.10)(12.4,5.56)(16.3,3.27)(20.2,1.47)(22.3,0.73)(24,0.24)(25,0.08)(59,0.10)};
\addplot[bl] coordinates {(0,6.13)(1,7.03)(2,7.93)(3,8.52)(4,8.83)(5,8.98)(6,9.03)(7,9.03)(8,8.98)(9,8.87)(10,8.07)(12.4,6.08)(16.3,3.77)(20.2,1.96)(22.3,1.25)(24,0.72)(25.6,0.3)(27,0.1)(28,0.06)(59,0.13)};
\addplot[bl] coordinates {(0,6.11)(1,6.98)(2,7.88)(3,8.47)(4,8.79)(5,8.94)(6,9.00)(7,9.00)(8,8.94)(9,8.83)(10,8.03)(12.4,5.76)(16.3,3.45)(20.2,1.66)(22.3,0.93)(24,0.42)(25.2,0.15)(26.3,0.06)(59,0.09)};
\addplot[bl] coordinates {(0,6.10)(1,6.94)(2,7.82)(3,8.42)(4,8.74)(5,8.90)(6,8.96)(7,8.96)(8,8.90)(9,8.78)(10,7.98)(12.4,5.50)(16.3,3.20)(20.2,1.41)(22.3,0.67)(24,0.18)(25,0.06)(59,0.11)};
\addplot[bl] coordinates {(0,6.08)(1,6.88)(2,7.75)(3,8.35)(4,8.69)(5,8.85)(6,8.91)(7,8.91)(8,8.85)(9,8.73)(10,7.93)(12.4,5.95)(16.3,3.64)(20.2,1.84)(22.3,1.12)(24,0.60)(25.5,0.25)(26.8,0.08)(59,0.10)};
\addplot[bl] coordinates {(0,6.05)(1,6.80)(2,7.66)(3,8.27)(4,8.61)(5,8.79)(6,8.85)(7,8.85)(8,8.79)(9,8.65)(10,7.85)(12.4,5.63)(16.3,3.33)(20.2,1.53)(22.3,0.80)(24,0.30)(25.1,0.1)(25.8,0.06)(59,0.12)};
\addplot[bl] coordinates {(0,6.01)(1,6.69)(2,7.53)(3,8.15)(4,8.51)(5,8.69)(6,8.76)(7,8.76)(8,8.69)(9,8.55)(10,7.75)(12.4,5.43)(16.3,3.14)(20.2,1.35)(22.3,0.60)(24,0.12)(24.8,0.06)(59,0.09)};
\addplot[bl] coordinates {(0,5.97)(1,6.57)(2,7.39)(3,8.01)(4,8.39)(5,8.59)(6,8.67)(7,8.67)(8,8.59)(9,8.44)(10,7.64)(12.4,5.69)(16.3,3.39)(20.2,1.59)(22.3,0.86)(24,0.36)(25.1,0.13)(26,0.06)(59,0.11)};
\addplot[bl] coordinates {(0,5.87)(1,6.29)(2,7.07)(3,7.70)(4,8.13)(5,8.36)(6,8.45)(7,8.45)(8,8.36)(9,8.17)(10,7.37)(12.4,5.53)(16.3,3.24)(20.2,1.45)(22.3,0.70)(24,0.22)(25,0.07)(59,0.10)};
\addplot[bl] coordinates {(0,5.82)(1,6.16)(2,6.92)(3,7.57)(4,8.01)(5,8.25)(6,8.35)(7,8.35)(8,8.25)(9,8.06)(10,7.26)(12.4,5.46)(16.3,3.17)(20.2,1.37)(22.3,0.63)(24,0.14)(24.9,0.06)(59,0.12)};
% stragglers
\addplot[bl] coordinates {(0,6.29)(1,7.50)(2,8.47)(3,9.03)(4,9.27)(5,9.37)(6,9.40)(7,9.40)(8,9.37)(9,9.30)(10,8.60)(12.4,6.90)(16.3,4.90)(20.7,3.75)(23.5,3.13)(26,2.35)(29,1.65)(32,1.05)(34.7,0.54)(36.2,0.15)(37,0.06)(59,0.10)};
\addplot[bl] coordinates {(0,6.26)(1,7.42)(2,8.38)(3,8.95)(4,9.20)(5,9.31)(6,9.34)(7,9.34)(8,9.31)(9,9.24)(10,8.55)(12.4,6.85)(16.3,4.70)(20.2,3.20)(23,2.10)(26,0.95)(28,0.40)(30,0.10)(59,0.12)};
\addplot[bl] coordinates {(0,6.24)(1,7.37)(2,8.33)(3,8.89)(4,9.16)(5,9.27)(6,9.30)(7,9.30)(8,9.27)(9,9.18)(10,8.50)(12.4,6.80)(16.3,4.60)(20.2,3.00)(23,1.70)(25,0.85)(27,0.30)(29,0.08)(59,0.10)};
\addplot[bl] table[x=x,y=n1]{\noiseD};
\addplot[bl] table[x=x,y=n2]{\noiseD};
\addplot[bl] table[x=x,y=n3]{\noiseD};
\end{axis}
\end{tikzpicture}
\end{document}
